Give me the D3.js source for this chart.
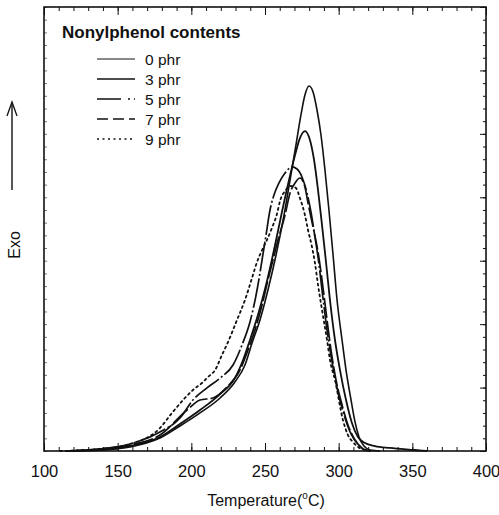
<!DOCTYPE html>
<html><head><meta charset="utf-8">
<script src="https://cdn.jsdelivr.net/npm/d3@7"></script>
<style>
body{margin:0;background:#fff}
svg text{font-family:"Liberation Sans",Arial,Helvetica,sans-serif;fill:#111}
</style>
</head><body>
<svg id="chart" width="499" height="515"></svg>
<script>
// ---- data ----
const seriesNames = ["0 phr", "3 phr", "5 phr", "7 phr", "9 phr"];
const legendTitle = "Nonylphenol contents";
const xTickValues = [100, 150, 200, 250, 300, 350, 400];

const temp0 = [117.6,138.0,158.4,178.7,192.3,205.9,219.5,229.6,236.4,241.2,246.6,252.0,257.5,262.9,267.0,271.0,274.4,277.1,279.9,282.6,285.3,288.0,290.7,293.4,296.2,298.9,302.3,305.0,308.4,311.1,313.8,317.2,321.3,328.0];
const exo0  = [0,0.08,0.32,1.02,1.97,3.00,4.18,5.44,6.78,8.51,10.33,12.69,15.45,18.60,21.36,24.12,26.49,28.06,28.77,28.30,26.88,24.91,22.15,19.00,15.45,11.90,8.75,6.38,4.02,2.29,1.10,0.39,0.08,0];

const temp3 = [117.6,138.0,158.4,178.7,192.3,205.9,219.5,229.6,235.1,239.8,245.2,250.7,256.1,261.5,266.3,270.4,273.7,277.1,280.5,283.3,286.0,288.7,291.4,294.1,297.5,300.9,305.0,309.0,313.1,317.9,324.6,334.8,351.8,360.0];
const exo3  = [0,0.08,0.39,1.10,2.13,3.23,4.49,5.75,7.17,8.75,10.72,13.09,15.84,18.84,21.36,23.33,24.67,25.22,24.52,22.94,20.57,17.81,14.90,11.90,8.75,6.38,4.02,2.21,1.10,0.63,0.39,0.24,0.08,0];

const temp5 = [114.3,138.0,158.4,178.7,192.3,201.1,210.6,219.5,228.3,234.4,239.8,244.6,248.0,250.7,253.4,256.1,259.5,263.6,268.3,271.7,275.1,278.5,281.2,283.9,286.0,288.7,292.1,295.5,299.5,304.3,308.4,312.4,316.5,321.3];
const exo5  = [0,0.16,0.55,1.50,2.60,4.02,4.97,5.75,6.78,8.36,10.17,12.69,15.06,17.03,19.00,20.18,21.13,21.91,22.39,22.23,21.60,20.34,18.84,16.87,15.29,12.69,9.54,7.02,4.65,2.60,1.34,0.63,0.16,0];

const temp7 = [114.3,138.0,158.4,178.7,197.1,205.9,214.7,224.2,233.0,238.5,243.2,248.0,252.0,255.4,258.8,263.6,267.0,270.4,273.7,277.1,279.2,282.6,286.0,288.7,292.1,294.8,298.2,302.3,306.3,311.1,315.8,321.3];
const exo7  = [0,0.16,0.47,1.26,3.23,4.02,4.18,5.04,6.38,7.96,9.54,11.51,13.48,15.06,16.63,18.60,20.34,21.13,21.52,20.81,19.55,17.66,15.69,13.48,10.33,7.96,5.60,3.63,2.05,0.87,0.24,0];

const temp9 = [110.9,138.0,158.4,178.7,186.9,195.7,201.1,207.2,211.3,216.1,220.8,224.9,231.0,236.4,241.2,244.6,248.0,251.3,254.7,258.1,260.2,263.6,267.6,271.0,273.7,277.1,279.2,281.9,283.9,286.0,288.7,292.1,294.1,297.5,302.9,306.3,309.7,313.1,317.9,322.0];
const exo9  = [0,0.16,0.55,1.81,3.00,4.18,4.81,5.36,5.83,6.38,7.57,8.59,10.33,11.90,13.64,14.90,15.84,16.63,17.58,18.68,19.71,20.50,20.89,20.73,19.94,18.60,17.42,16.08,14.82,13.09,11.11,8.75,7.17,5.60,2.44,1.26,0.71,0.32,0.08,0];

const temps = [temp0, temp3, temp5, temp7, temp9];
const exos  = [exo0, exo3, exo5, exo7, exo9];

// ---- styles ----
const dashes = [null, null, "30,2.5,2,2.5", "20,3", "2,3.5"];
const widths = [1.6, 1.8, 1.7, 1.7, 1.8];
const legendWidths = [1.0, 1.5, 1.3, 1.3, 1.6];
const legendDashes = [null, null, "24,7,2,4", "11,5", "2,3.5"];

const svg = d3.select("#chart");
const L = 44, R = 486, T = 7, B = 451;
const x = d3.scaleLinear().domain([100, 400]).range([L, R]);
const y = d3.scaleLinear().domain([0, 35]).range([B, T]);

// axes ticks (inward)
const minorX = d3.range(100, 401, 10);
const minorY = d3.range(0, 36, 1);
const majorY = d3.range(0, 36, 5);

function styleAxis(g){ g.select(".domain").remove(); g.selectAll("line").attr("stroke","#111").attr("stroke-width",1); }

svg.append("g").attr("transform",`translate(0,${B})`)
  .call(d3.axisBottom(x).tickValues(minorX).tickSize(-4).tickFormat(""))
  .call(styleAxis);
svg.append("g").attr("transform",`translate(0,${B})`)
  .call(d3.axisBottom(x).tickValues(xTickValues).tickSize(-8).tickPadding(14).tickFormat(d3.format("d")))
  .call(styleAxis)
  .call(g => g.selectAll("text").attr("font-size", 16.5).attr("fill","#111"));
svg.append("g").attr("transform",`translate(0,${T})`)
  .call(d3.axisTop(x).tickValues(minorX).tickSize(-4).tickFormat(""))
  .call(styleAxis);
svg.append("g").attr("transform",`translate(0,${T})`)
  .call(d3.axisTop(x).tickValues(xTickValues).tickSize(-8).tickFormat(""))
  .call(styleAxis);
svg.append("g").attr("transform",`translate(${R},0)`)
  .call(d3.axisRight(y).tickValues(minorY).tickSize(-3).tickFormat(""))
  .call(styleAxis);
svg.append("g").attr("transform",`translate(${R},0)`)
  .call(d3.axisRight(y).tickValues(majorY).tickSize(-6).tickFormat(""))
  .call(styleAxis);
svg.append("g").attr("transform",`translate(${L},0)`)
  .call(d3.axisLeft(y).tickValues(minorY).tickSize(-3).tickFormat(""))
  .call(styleAxis)
  .call(g => g.selectAll("line").attr("stroke","#555").attr("stroke-width",0.8));

// frame
svg.append("rect").attr("x",L).attr("y",T).attr("width",R-L).attr("height",B-T)
  .attr("fill","none").attr("stroke","#111").attr("stroke-width",1.6);

// curves
const line = d3.line().x(d => x(d[0])).y(d => y(d[1])).curve(d3.curveMonotoneX);
temps.forEach((tArr, i) => {
  const pts = tArr.map((t, j) => [t, exos[i][j]]);
  svg.append("path").datum(pts).attr("d", line)
    .attr("fill","none").attr("stroke","#111")
    .attr("stroke-width", widths[i])
    .attr("stroke-dasharray", dashes[i])
    .attr("stroke-linecap", i === 4 ? "round" : "butt");
});

// legend
svg.append("text").attr("x",62).attr("y",38).attr("font-size",17).attr("font-weight","bold")
  .text(legendTitle);
seriesNames.forEach((name, i) => {
  const yy = 59 + i * 20;
  svg.append("line").attr("x1",97).attr("x2",135).attr("y1",yy).attr("y2",yy)
    .attr("stroke","#111").attr("stroke-width",legendWidths[i])
    .attr("stroke-dasharray",legendDashes[i]);
  svg.append("text").attr("x",145).attr("y",yy+5.5).attr("font-size",15.5).text(name);
});

// x axis title
const xt = svg.append("text").attr("x",266).attr("y",506).attr("text-anchor","middle").attr("font-size",16);
xt.append("tspan").text("Temperature(");
xt.append("tspan").attr("font-size",10).attr("dy",-7).text("o");
xt.append("tspan").attr("dy",7).text("C)");

// y label with arrow
svg.append("line").attr("x1",12).attr("x2",12).attr("y1",190).attr("y2",103)
  .attr("stroke","#111").attr("stroke-width",1.4);
svg.append("path").attr("d","M7,116 L12,102 L17,116").attr("fill","none")
  .attr("stroke","#111").attr("stroke-width",1.3);
svg.append("text").attr("transform","translate(20,245) rotate(-90)")
  .attr("text-anchor","middle").attr("font-size",16).text("Exo");
</script>
</body></html>
